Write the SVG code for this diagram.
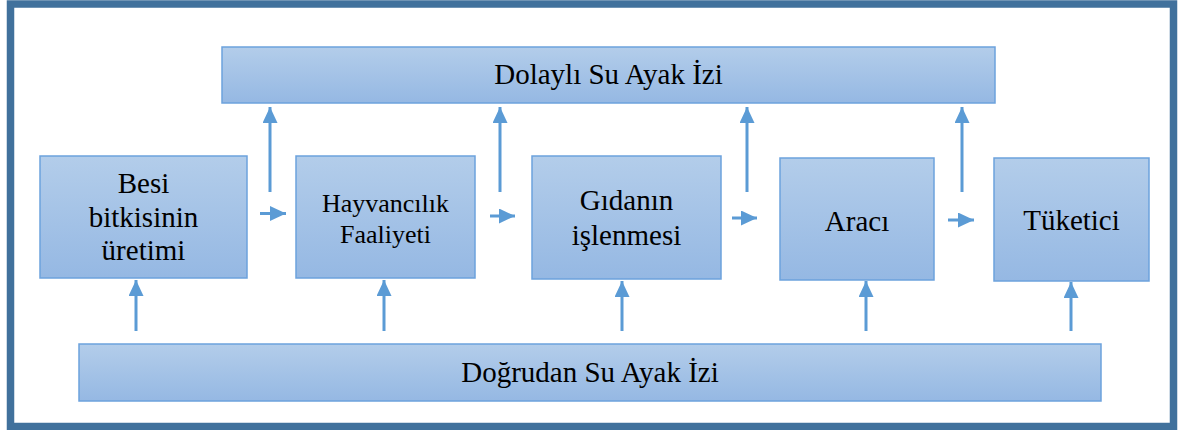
<svg xmlns="http://www.w3.org/2000/svg" width="1180" height="430" viewBox="0 0 1180 430">
  <defs>
    <linearGradient id="boxFill" x1="0" y1="0" x2="0" y2="1">
      <stop offset="0" stop-color="#B3CDEA"/>
      <stop offset="1" stop-color="#95B8E3"/>
    </linearGradient>
    <marker id="head" markerUnits="userSpaceOnUse" markerWidth="17" markerHeight="16" refX="16" refY="7.5" orient="auto">
      <path d="M0,0 L16,7.5 L0,15 z" fill="#5B9BD5"/>
    </marker>
    <style>
      .box { fill: url(#boxFill); stroke: #6CA2DD; stroke-width: 1.5; }
      .lbl { fill: #000; text-anchor: middle; }
      .conn { stroke: #5B9BD5; stroke-width: 3; fill: none; marker-end: url(#head); }
    </style>
  </defs>

  <rect x="0" y="0" width="1180" height="430" fill="#fff"/>
  <!-- outer frame -->
  <rect x="10.5" y="4" width="1163" height="422.5" fill="#fff" stroke="#41719C" stroke-width="7.5"/>

  <g font-family="'Liberation Serif', 'Times New Roman', Tinos, 'DejaVu Serif', serif">
    <g id="dolayli">
      <rect class="box" x="222" y="47" width="773" height="56"/>
      <text class="lbl" x="608.5" y="84" font-size="29">Dolaylı Su Ayak İzi</text>
    </g>

    <g id="besi">
      <rect class="box" x="40" y="156" width="207" height="122"/>
      <text class="lbl" x="143.5" y="193" font-size="29">Besi</text>
      <text class="lbl" x="143.5" y="227" font-size="29">bitkisinin</text>
      <text class="lbl" x="143.5" y="260" font-size="29">üretimi</text>
    </g>

    <g id="hayvancilik">
      <rect class="box" x="296" y="156" width="179" height="122"/>
      <text class="lbl" x="385.5" y="212" font-size="26">Hayvancılık</text>
      <text class="lbl" x="385.5" y="243" font-size="26">Faaliyeti</text>
    </g>

    <g id="gida">
      <rect class="box" x="532" y="156" width="189" height="123"/>
      <text class="lbl" x="626.5" y="210" font-size="29">Gıdanın</text>
      <text class="lbl" x="626.5" y="245" font-size="29">işlenmesi</text>
    </g>

    <g id="araci">
      <rect class="box" x="780" y="158" width="154" height="122"/>
      <text class="lbl" x="857" y="231" font-size="29">Aracı</text>
    </g>

    <g id="tuketici">
      <rect class="box" x="994" y="158" width="155" height="123"/>
      <text class="lbl" x="1071.5" y="230" font-size="29">Tüketici</text>
    </g>

    <g id="dogrudan">
      <rect class="box" x="79" y="344" width="1022" height="57"/>
      <text class="lbl" x="590" y="382" font-size="29">Doğrudan Su Ayak İzi</text>
    </g>
  </g>

  <g id="connectors">
    <!-- up to indirect footprint -->
    <line class="conn" x1="270" y1="192" x2="270" y2="107"/>
    <line class="conn" x1="500" y1="192" x2="500" y2="107"/>
    <line class="conn" x1="747" y1="192" x2="747" y2="107"/>
    <line class="conn" x1="962" y1="192" x2="962" y2="107"/>
    <!-- along the chain -->
    <line class="conn" x1="260" y1="213.5" x2="286" y2="213.5"/>
    <line class="conn" x1="490" y1="216" x2="515" y2="216"/>
    <line class="conn" x1="732" y1="218" x2="757" y2="218"/>
    <line class="conn" x1="948" y1="220" x2="974" y2="220"/>
    <!-- up from direct footprint -->
    <line class="conn" x1="136" y1="331" x2="136" y2="280"/>
    <line class="conn" x1="384" y1="331" x2="384" y2="280"/>
    <line class="conn" x1="622" y1="331" x2="622" y2="281"/>
    <line class="conn" x1="866" y1="331" x2="866" y2="281"/>
    <line class="conn" x1="1071" y1="331" x2="1071" y2="282"/>
  </g>
</svg>
